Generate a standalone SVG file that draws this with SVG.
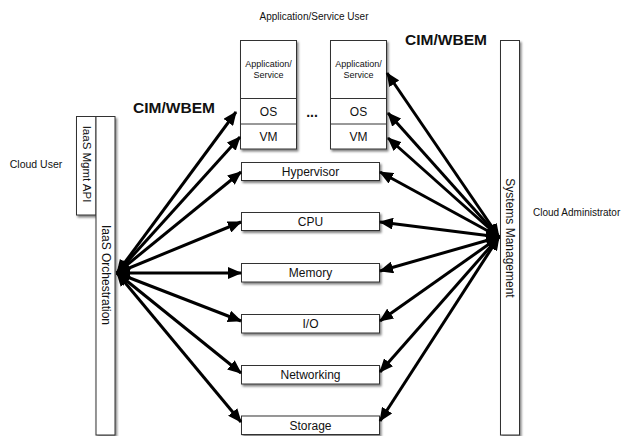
<svg xmlns="http://www.w3.org/2000/svg" width="622" height="436" viewBox="0 0 622 436">
<defs>
<style>
.box{fill:#fff;stroke:#333;stroke-width:1;}
.sh{filter:url(#shadow);}
.t{font-family:"Liberation Sans",Arial,sans-serif;fill:#111;text-anchor:middle;}
.lbl{font-size:12px;}
.small{font-size:9px;}
.cap{font-size:10px;}
.side{font-size:10.5px;}
.big{font-size:15.5px;font-weight:bold;}
.conn{stroke:#000;stroke-width:3;fill:none;marker-start:url(#ah);marker-end:url(#ah);}
</style>
<filter id="shadow" x="-20%" y="-20%" width="140%" height="160%">
<feDropShadow dx="1.5" dy="2" stdDeviation="1" flood-color="#000" flood-opacity="0.5"/>
</filter>
<marker id="ah" viewBox="0 0 14 12" refX="13" refY="6" markerWidth="14" markerHeight="12" markerUnits="userSpaceOnUse" orient="auto-start-reverse">
<path d="M0,0 L14,6 L0,12 z" fill="#000"/>
</marker>
</defs>
<rect width="622" height="436" fill="#fff"/>

<text class="t cap" x="314" y="20">Application/Service User</text>
<text class="t side" x="36" y="168">Cloud User</text>
<text class="t" x="533" y="216" style="text-anchor:start;font-size:10px">Cloud Administrator</text>
<text class="t big" x="174" y="113">CIM/WBEM</text>
<text class="t big" x="446" y="45">CIM/WBEM</text>
<text class="t" x="312" y="117" style="font-size:14px;font-weight:bold">...</text>

<g id="iaas-mgmt-api">
<rect class="box sh" x="76.5" y="116.5" width="19.5" height="98.5"/>
<text class="t" x="0" y="0" style="font-size:11.5px" transform="translate(82.5,164) rotate(90)">IaaS Mgmt API</text>
</g>
<g id="iaas-orchestration">
<rect class="box sh" x="96" y="116.5" width="19" height="318.5"/>
<text class="t lbl" x="0" y="0" transform="translate(101.5,275) rotate(90)">IaaS Orchestration</text>
</g>
<g id="systems-management">
<rect class="box sh" x="500.5" y="40.5" width="19" height="394.5"/>
<text class="t lbl" x="0" y="0" transform="translate(506,238) rotate(90)">Systems Management</text>
</g>

<g id="vm1">
<rect class="box sh" x="240.5" y="40.5" width="56" height="108.5"/>
<line x1="240.5" y1="98.5" x2="296.5" y2="98.5" stroke="#333"/>
<line x1="240.5" y1="124" x2="296.5" y2="124" stroke="#333"/>
<text class="t small" x="268.5" y="67">Application/</text>
<text class="t small" x="268.5" y="78">Service</text>
<text class="t lbl" x="268.5" y="116">OS</text>
<text class="t lbl" x="268.5" y="141">VM</text>
</g>
<g id="vm2">
<rect class="box sh" x="330.5" y="40.5" width="56" height="108.5"/>
<line x1="330.5" y1="98.5" x2="386.5" y2="98.5" stroke="#333"/>
<line x1="330.5" y1="124" x2="386.5" y2="124" stroke="#333"/>
<text class="t small" x="358.5" y="67">Application/</text>
<text class="t small" x="358.5" y="78">Service</text>
<text class="t lbl" x="358.5" y="116">OS</text>
<text class="t lbl" x="358.5" y="141">VM</text>
</g>
<g id="hypervisor">
<rect class="box sh" x="241.5" y="162.5" width="138" height="18"/>
<text class="t lbl" x="310.5" y="175.5">Hypervisor</text>
</g>
<g id="cpu">
<rect class="box sh" x="241.5" y="212.5" width="138" height="18"/>
<text class="t lbl" x="310.5" y="225.5">CPU</text>
</g>
<g id="memory">
<rect class="box sh" x="241.5" y="263.5" width="138" height="18.5"/>
<text class="t lbl" x="310.5" y="277">Memory</text>
</g>
<g id="io">
<rect class="box sh" x="241.5" y="314.5" width="138" height="18.5"/>
<text class="t lbl" x="310.5" y="328">I/O</text>
</g>
<g id="networking">
<rect class="box sh" x="241.5" y="365.5" width="138" height="18.5"/>
<text class="t lbl" x="310.5" y="379">Networking</text>
</g>
<g id="storage">
<rect class="box sh" x="241.5" y="416" width="138" height="18.5"/>
<text class="t lbl" x="310.5" y="429.5">Storage</text>
</g>

<g id="connectors">
<line class="conn" x1="117" y1="273" x2="236" y2="112"/>
<line class="conn" x1="117" y1="273" x2="240" y2="137"/>
<line class="conn" x1="117" y1="273" x2="241" y2="172"/>
<line class="conn" x1="117" y1="273" x2="241" y2="222"/>
<line class="conn" x1="117" y1="273" x2="241" y2="273"/>
<line class="conn" x1="117" y1="273" x2="241" y2="321"/>
<line class="conn" x1="117" y1="273" x2="241" y2="373"/>
<line class="conn" x1="117" y1="273" x2="241" y2="422"/>
<line class="conn" x1="499" y1="237" x2="387" y2="73"/>
<line class="conn" x1="499" y1="237" x2="388" y2="113"/>
<line class="conn" x1="499" y1="237" x2="388" y2="138"/>
<line class="conn" x1="499" y1="237" x2="380" y2="172"/>
<line class="conn" x1="499" y1="237" x2="380" y2="222"/>
<line class="conn" x1="499" y1="237" x2="380" y2="271"/>
<line class="conn" x1="499" y1="237" x2="380" y2="321"/>
<line class="conn" x1="499" y1="237" x2="380" y2="372"/>
<line class="conn" x1="499" y1="237" x2="380" y2="421"/>
</g>
</svg>
